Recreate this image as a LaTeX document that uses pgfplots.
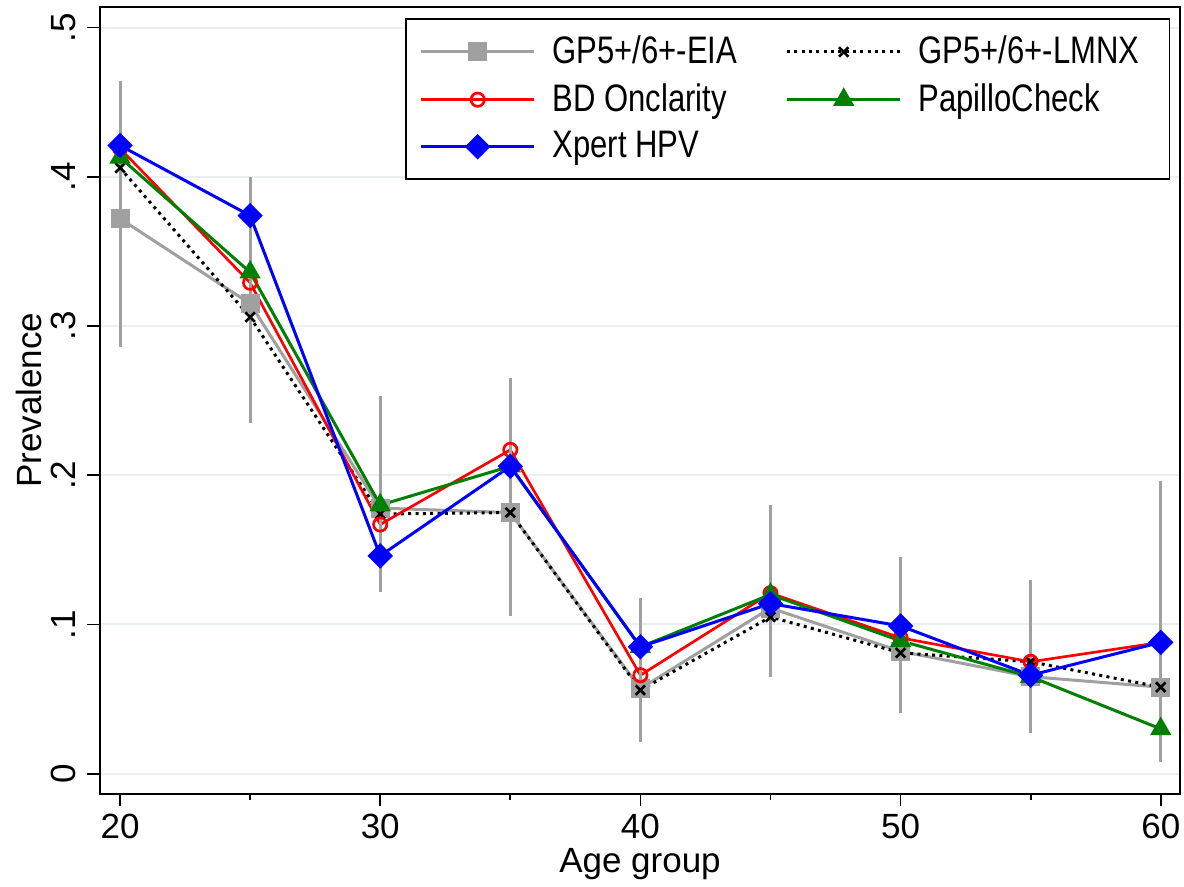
\documentclass[border=0pt]{standalone}
\usepackage{fontspec}
\setmainfont{Liberation Sans}
\newfontfamily\legfont[FakeStretch=0.81]{Liberation Sans}
\usepackage{pgfplots}
\usepackage{pgfplotstable}
\pgfplotsset{compat=1.18}
\definecolor{cigray}{RGB}{160,160,160}
\definecolor{cigreen}{RGB}{0,128,0}
\definecolor{gridc}{RGB}{232,240,242}

% prevalence by age group
\pgfplotstableread{
age  EIA    LMNX   BD     Papillo Xpert  ep     em
20   0.372  0.406  0.419  0.413   0.421  0.092  0.086
25   0.315  0.306  0.329  0.336   0.374  0.085  0.080
30   0.178  0.174  0.167  0.180   0.146  0.075  0.056
35   0.175  0.175  0.217  0.206   0.206  0.090  0.069
40   0.057  0.056  0.066  0.085   0.085  0.061  0.0355
45   0.111  0.105  0.121  0.120   0.114  0.069  0.046
50   0.082  0.081  0.091  0.089   0.099  0.063  0.041
55   0.065  0.075  0.075  0.065   0.066  0.065  0.038
60   0.058  0.058  0.088  0.030   0.088  0.138  0.050
}\prev

\begin{document}
\begin{tikzpicture}
\begin{axis}[
  scale only axis,
  width=324pt, height=236pt,
  xmin=19.23, xmax=60.74,
  ymin=-0.0134, ymax=0.5138,
  xtick={20,30,40,50,60},
  minor xtick={25,35,45,55},
  ytick={0,0.1,0.2,0.3,0.4,0.5},
  yticklabels={0,.1,.2,.3,.4,.5},
  yticklabel style={rotate=90, anchor=south},
  xticklabel style={inner ysep=2pt},
  tick align=outside,
  major tick length=3.8pt,
  minor tick length=2pt,
  xtick pos=bottom, ytick pos=left,
  tick style={black, line width=0.5pt},
  axis line style={black, line width=0.6pt},
  ymajorgrids,
  grid style={gridc, line width=0.6pt},
  /pgf/number format/assume math mode=true,
  tick label style={font=\fontsize{10.5}{12}\selectfont},
  label style={font=\fontsize{10.5}{12}\selectfont},
  xlabel={Age group},
  ylabel={Prevalence},
  xlabel style={at={(axis description cs:0.5,-0.1005)}, anchor=base, inner sep=1pt},
  ylabel style={at={(axis description cs:-0.066,0.5)}, anchor=center},
  legend columns=2,
  legend cell align=left,
  legend image code/.code={\draw[mark repeat=2,mark phase=2,#1]
      plot coordinates {(0pt,0pt)(17pt,0pt)(34pt,0pt)};},
  legend style={at={(rel axis cs:0.991,0.986)}, anchor=north east,
    draw=black, line width=0.5pt, font=\legfont\fontsize{11.5}{13}\selectfont,
    inner xsep=4pt, inner ysep=3pt, row sep=0.5pt,
    /tikz/column 2/.style={column sep=9.5pt},
    nodes={inner xsep=5pt}},
]
\addplot[cigray, line width=0.9pt, mark=square*, mark size=2.4pt,
  mark options={solid, fill=cigray}]
  table[x=age, y=EIA] {\prev};
\addlegendentry{GP5+/6+-EIA}
\addplot[black, line width=0.9pt, dash pattern=on 0.9pt off 1.3pt,
  mark=x, mark size=2pt, mark options={solid, line width=0.8pt}]
  table[x=age, y=LMNX] {\prev};
\addlegendentry{GP5+/6+-LMNX}
\addplot[red, line width=0.8pt, mark=o, mark size=2pt,
  mark options={solid, line width=0.8pt}]
  table[x=age, y=BD] {\prev};
\addlegendentry{BD Onclarity}
\addplot[cigreen, line width=0.9pt, mark=triangle*, mark size=2.8pt,
  mark options={solid, fill=cigreen}]
  table[x=age, y=Papillo] {\prev};
\addlegendentry{PapilloCheck}
\addplot[blue, line width=0.9pt, mark=square*, mark size=2.25pt,
  mark options={solid, fill=blue, rotate=45}]
  table[x=age, y=Xpert] {\prev};
\addlegendentry{Xpert HPV}
% confidence intervals drawn on top
\addplot[draw=none, mark=none, forget plot,
  error bars/.cd, y dir=both, y explicit, error mark=none,
  error bar style={draw=cigray, solid, line width=0.9pt}]
  table[x=age, y=EIA, y error plus=ep, y error minus=em] {\prev};
\coordinate (sw) at (rel axis cs:0,0);
\coordinate (ne) at (rel axis cs:1,1);
\end{axis}
% frame the page like the reference: 1 px = 0.3 pt
\pgfresetboundingbox
\path[use as bounding box] ([shift={(-30pt,-27.9pt)}]sw) rectangle ([shift={(1.2pt,2.1pt)}]ne);
\end{tikzpicture}
\end{document}
